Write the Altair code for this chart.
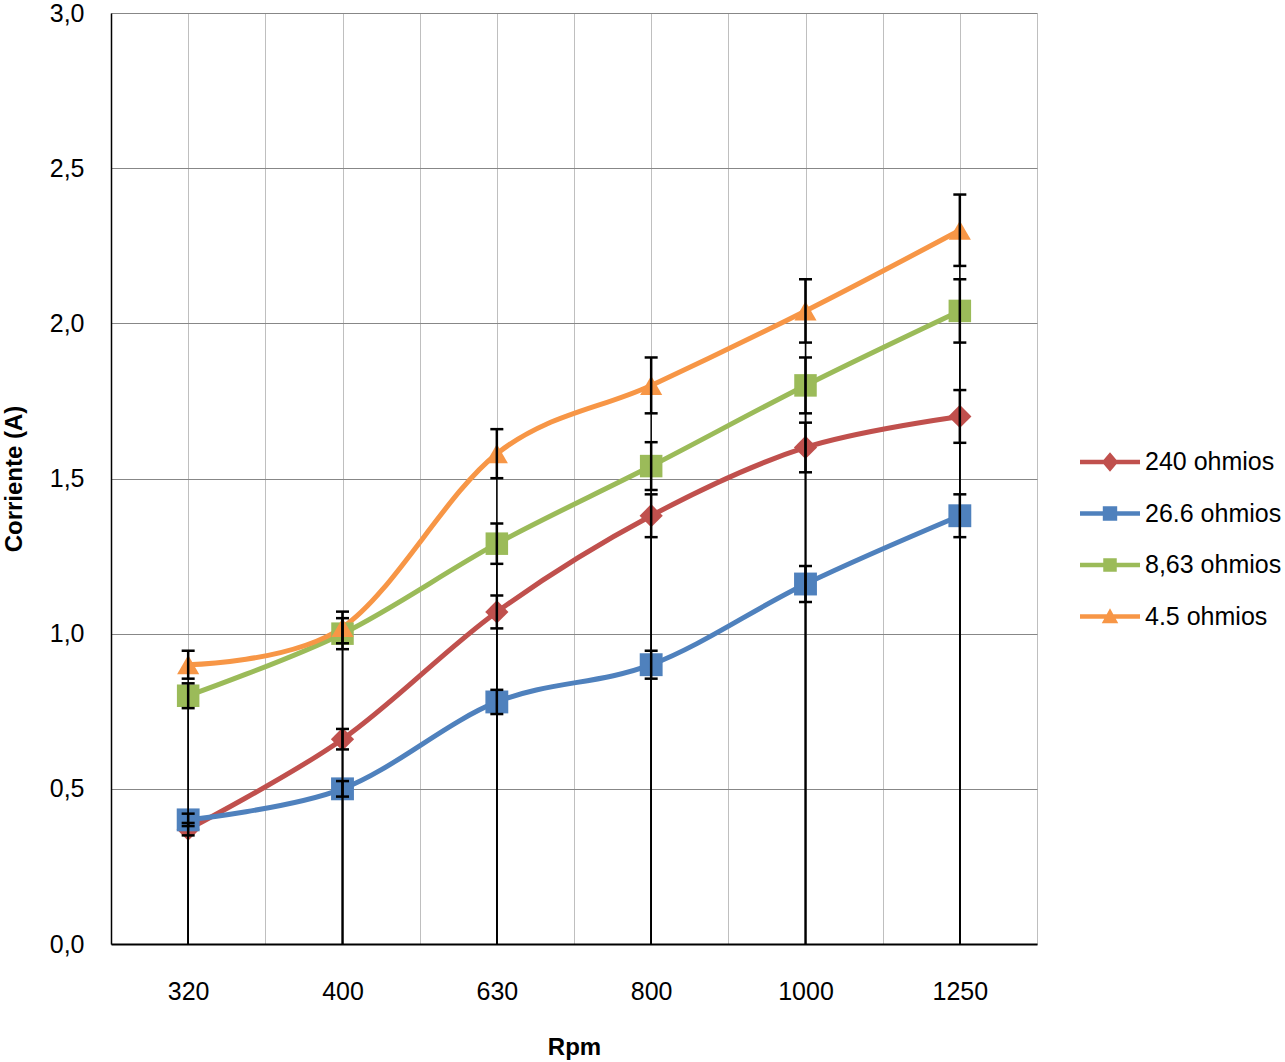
import altair as alt
import pandas as pd

rpm = ["320", "400", "630", "800", "1000", "1250"]
series = ["240 ohmios", "26.6 ohmios", "8,63 ohmios", "4.5 ohmios"]
colors = ["#C0504D", "#4F81BD", "#9BBB59", "#F79646"]
shapes = ["diamond", "square", "square", "triangle-up"]
marker_sizes = [540, 490, 450, 480]

vals_240 = [0.37, 0.66, 1.07, 1.38, 1.60, 1.70]
vals_266 = [0.40, 0.50, 0.78, 0.90, 1.16, 1.38]
vals_863 = [0.80, 1.00, 1.29, 1.54, 1.80, 2.04]
vals_45 = [0.90, 1.02, 1.58, 1.80, 2.04, 2.30]

err_240 = [0.02, 0.033, 0.053, 0.069, 0.08, 0.085]
err_266 = [0.02, 0.025, 0.039, 0.045, 0.058, 0.069]
err_863 = [0.04, 0.05, 0.065, 0.077, 0.09, 0.102]
err_45 = [0.045, 0.051, 0.079, 0.09, 0.102, 0.115]

# legend symbols: line with marker (paths in unit coordinates)
line_part = "M-2,-0.15 L2,-0.15 L2,0.15 L-2,0.15 Z "
legend_paths = [
    line_part + "M-0.55,0 L0,-0.65 L0.55,0 L0,0.65 Z",
    line_part + "M-0.48,-0.48 L0.48,-0.48 L0.48,0.48 L-0.48,0.48 Z",
    line_part + "M-0.45,-0.45 L0.45,-0.45 L0.45,0.45 L-0.45,0.45 Z",
    line_part + "M0,-0.55 L0.55,0.45 L-0.55,0.45 Z",
]

all_vals = [vals_240, vals_266, vals_863, vals_45]
all_errs = [err_240, err_266, err_863, err_45]
rows = []
for s, vals, errs in zip(series, all_vals, all_errs):
    for i, (r, v, e) in enumerate(zip(rpm, vals, errs)):
        rows.append({"series": s, "idx": i, "rpm": r, "val": v,
                     "lo": v - e, "hi": v + e, "zero": 0.0})
df = pd.DataFrame(rows)

FONT = "Liberation Sans"
n = len(rpm)
xvals = [i / 2 - 0.5 for i in range(2 * n + 1)]
lab_arr = "[" + ",".join("'" + r + "'" for r in rpm) + "]"

x_axis = alt.Axis(
    values=xvals,
    labelExpr=f"datum.value % 1 === 0 ? {lab_arr}[datum.value] : ''",
    grid=True, gridColor="#BFBFBF", gridWidth=1,
    domainColor="#000000", domainWidth=2,
    ticks=False, tickSize=0,
    labelPadding=47, labelBaseline="middle", labelFontSize=25, labelFont=FONT,
    labelColor="#000000", labelOverlap=False, labelFlush=False,
    title="Rpm", titleFont=FONT, titleFontSize=24, titleFontWeight="bold",
    titleColor="#000000", titleY=103, titleBaseline="middle",
)
y_axis = alt.Axis(
    values=[0, 0.5, 1.0, 1.5, 2.0, 2.5, 3.0],
    labelExpr="replace(format(datum.value, '.1f'), '.', ',')",
    grid=True, gridColor="#878787", gridWidth=1,
    domainColor="#000000", domainWidth=1.5,
    ticks=False, tickSize=0,
    labelPadding=27, labelFontSize=25, labelFont=FONT, labelColor="#000000",
    labelBaseline="middle",
    title="Corriente (A)", titleFont=FONT, titleFontSize=24, titleFontWeight="bold",
    titleColor="#000000", titleX=-97, titleY=465.5, titleAngle=270,
    titleBaseline="middle", titleAlign="center",
)

X = alt.X("idx:Q", scale=alt.Scale(domain=[-0.5, n - 0.5], nice=False, zero=False), axis=x_axis)
Y = alt.Y("val:Q", scale=alt.Scale(domain=[0, 3], nice=False), axis=y_axis)
color_scale = alt.Scale(domain=series, range=colors)

base = alt.Chart(df)

lines = base.mark_line(interpolate="cardinal", strokeWidth=5, strokeCap="round",
                       strokeJoin="round").encode(
    x=X, y=Y,
    color=alt.Color("series:N", scale=color_scale, legend=None),
)

points = base.mark_point(filled=True, opacity=1, strokeWidth=0).encode(
    x=X, y=Y,
    color=alt.Color("series:N", scale=color_scale, legend=None),
    shape=alt.Shape("series:N", scale=alt.Scale(domain=series, range=shapes), legend=None),
    size=alt.Size("series:N", scale=alt.Scale(domain=series, range=marker_sizes), legend=None),
)

full_rule = base.mark_rule(color="#000000", strokeWidth=1.5).encode(
    x=X, y=alt.Y("zero:Q"), y2="hi:Q"
)
err_rule = base.mark_rule(color="#000000", strokeWidth=2.5).encode(
    x=X, y=alt.Y("lo:Q"), y2="hi:Q"
)
cap_lo = base.mark_tick(orient="horizontal", size=13, thickness=2.5,
                        color="#000000", opacity=1).encode(x=X, y=alt.Y("lo:Q"))
cap_hi = base.mark_tick(orient="horizontal", size=13, thickness=2.5,
                        color="#000000", opacity=1).encode(x=X, y=alt.Y("hi:Q"))

leg_props = dict(
    orient="none", legendX=984, legendY=434, title=None,
    symbolSize=900, symbolStrokeWidth=0, labelFont=FONT, labelFontSize=25,
    labelColor="#000000", labelOffset=20, rowPadding=23.5, padding=0,
    labelLimit=0, direction="vertical",
)
legend_layer = base.mark_point(filled=True, opacity=1, size=900, strokeWidth=0).encode(
    color=alt.Color("series:N", scale=color_scale, legend=alt.Legend(**leg_props)),
    shape=alt.Shape("series:N", scale=alt.Scale(domain=series, range=legend_paths),
                    legend=alt.Legend(**leg_props)),
).transform_filter("false")

chart = alt.layer(
    lines, points, full_rule, err_rule, cap_lo, cap_hi, legend_layer
).resolve_scale(
    color="independent", shape="independent"
).properties(
    width=926, height=931,
    padding={"left": 111, "top": 13, "right": 248, "bottom": 118},
    autosize=alt.AutoSizeParams(type="none"),
    background="white",
).configure_view(strokeWidth=0)

chart.save("out.html", embed_options={"renderer": "svg", "actions": False})
